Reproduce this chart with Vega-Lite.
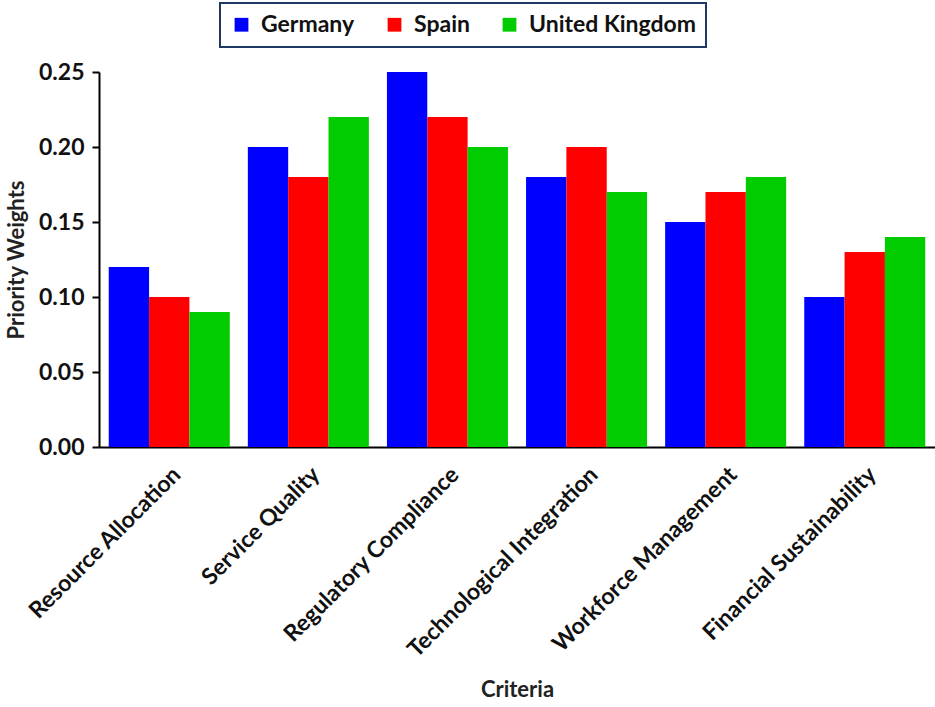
{
  "$schema": "https://vega.github.io/schema/vega-lite/v6.json",
  "autosize": "none",
  "padding": {"left": 99, "top": 72, "right": 0, "bottom": 260},
  "width": 836,
  "height": 375,
  "background": "white",
  "config": {
    "view": {"stroke": null},
    "font": "Lato"
  },
  "data": {
    "values": [
      {"criteria": "Resource Allocation", "country": "Germany", "weight": 0.12},
      {"criteria": "Resource Allocation", "country": "Spain", "weight": 0.10},
      {"criteria": "Resource Allocation", "country": "United Kingdom", "weight": 0.09},
      {"criteria": "Service Quality", "country": "Germany", "weight": 0.20},
      {"criteria": "Service Quality", "country": "Spain", "weight": 0.18},
      {"criteria": "Service Quality", "country": "United Kingdom", "weight": 0.22},
      {"criteria": "Regulatory Compliance", "country": "Germany", "weight": 0.25},
      {"criteria": "Regulatory Compliance", "country": "Spain", "weight": 0.22},
      {"criteria": "Regulatory Compliance", "country": "United Kingdom", "weight": 0.20},
      {"criteria": "Technological Integration", "country": "Germany", "weight": 0.18},
      {"criteria": "Technological Integration", "country": "Spain", "weight": 0.20},
      {"criteria": "Technological Integration", "country": "United Kingdom", "weight": 0.17},
      {"criteria": "Workforce Management", "country": "Germany", "weight": 0.15},
      {"criteria": "Workforce Management", "country": "Spain", "weight": 0.17},
      {"criteria": "Workforce Management", "country": "United Kingdom", "weight": 0.18},
      {"criteria": "Financial Sustainability", "country": "Germany", "weight": 0.10},
      {"criteria": "Financial Sustainability", "country": "Spain", "weight": 0.13},
      {"criteria": "Financial Sustainability", "country": "United Kingdom", "weight": 0.14}
    ]
  },
  "mark": {"type": "bar"},
  "encoding": {
    "x": {
      "field": "criteria",
      "type": "nominal",
      "sort": null,
      "scale": {"paddingInner": 0.13, "paddingOuter": 0.07},
      "axis": {
        "title": "Criteria",
        "titleFont": "Lato",
        "titleFontSize": 22,
        "titleFontWeight": "bold",
        "titleColor": "#222",
        "titlePadding": 32,
        "labelAngle": -45,
        "labelFont": "Lato",
        "labelFontSize": 23,
        "labelFontWeight": "bold",
        "labelColor": "#111",
        "labelPadding": 16,
        "labelLimit": 400,
        "ticks": false,
        "domainColor": "black",
        "domainWidth": 2
      }
    },
    "xOffset": {"field": "country", "type": "nominal"},
    "y": {
      "field": "weight",
      "type": "quantitative",
      "scale": {"domain": [0, 0.25], "nice": false},
      "axis": {
        "title": "Priority Weights",
        "titleFont": "Lato",
        "titleFontSize": 22,
        "titleFontWeight": "bold",
        "titleColor": "#222",
        "titlePadding": 10,
        "values": [0, 0.05, 0.1, 0.15, 0.2, 0.25],
        "format": ".2f",
        "labelFont": "Lato",
        "labelFontSize": 23,
        "labelFontWeight": "bold",
        "labelColor": "#111",
        "labelPadding": 8,
        "grid": false,
        "tickColor": "black",
        "tickSize": 7,
        "tickWidth": 2,
        "domainColor": "black",
        "domainWidth": 2
      }
    },
    "color": {
      "field": "country",
      "type": "nominal",
      "scale": {
        "domain": ["Germany", "Spain", "United Kingdom"],
        "range": ["#0000FF", "#FF0000", "#00CC00"]
      },
      "legend": {
        "title": null,
        "orient": "none",
        "direction": "horizontal",
        "legendX": 121,
        "legendY": -69,
        "symbolType": "square",
        "symbolSize": 190,
        "symbolStrokeWidth": 0,
        "labelFont": "Lato",
        "labelFontSize": 23,
        "labelFontWeight": "bold",
        "labelColor": "#111",
        "labelOffset": 8,
        "columnPadding": 28,
        "padding": 10,
        "strokeColor": "#1F3864",
        "fillColor": "white",
        "labelLimit": 300,
        "encode": {"legend": {"update": {"strokeWidth": {"value": 2}}}}
      }
    }
  }
}
